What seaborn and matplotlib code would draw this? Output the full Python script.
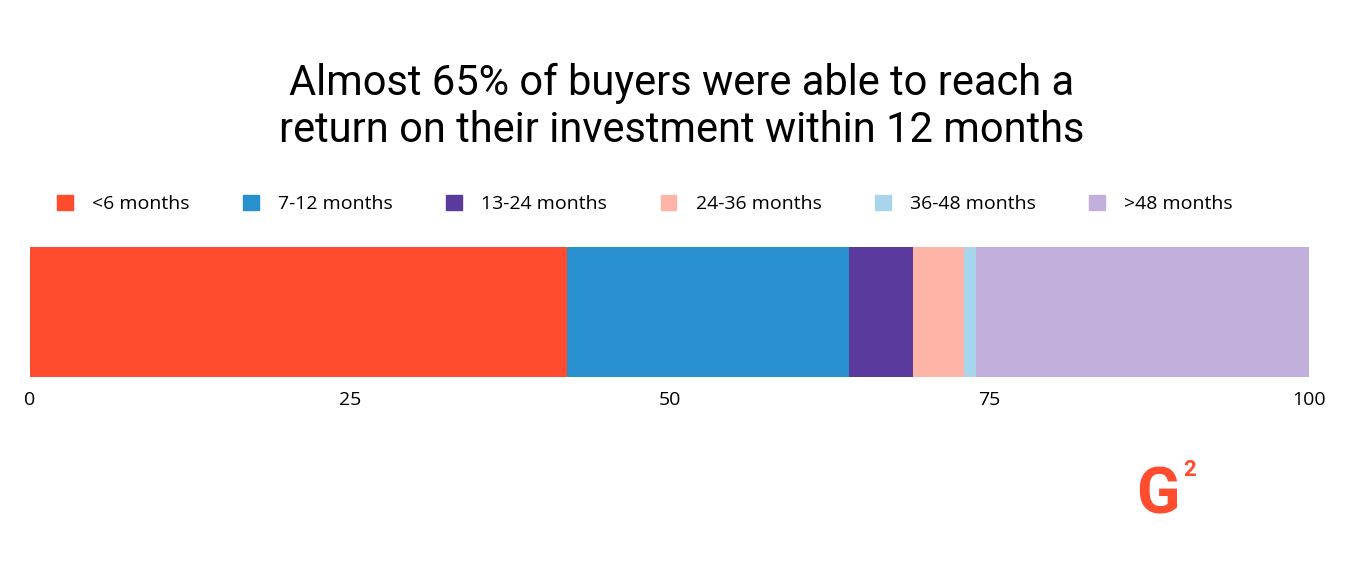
import matplotlib
matplotlib.use("Agg")
import matplotlib.pyplot as plt
import seaborn as sns
import pandas as pd
import numpy as np
from matplotlib.patches import Patch

categories = ["<6 months", "7-12 months", "13-24 months", "24-36 months", "36-48 months", ">48 months"]
values = [42.0, 22.0, 5.0, 4.0, 1.0, 26.0]
colors = ["#FF4B2E", "#2890CF", "#5B3A9E", "#FFB4A8", "#A8D4EC", "#C0B0DB"]
ticks = [0, 25, 50, 75, 100]

fig = plt.figure(figsize=(13.64, 5.64), dpi=100)
ax = fig.add_axes([30/1364, (564-377)/564, (1309-30)/1364, 130/564])
cum = np.cumsum(values)
for i in reversed(range(len(values))):
    df = pd.DataFrame({"y": ["all"], "x": [cum[i]]})
    sns.barplot(data=df, x="x", y="y", orient="h", color=colors[i], width=1.0,
                saturation=1, ax=ax, linewidth=0)
ax.set_xlim(0, 100)
ax.set_ylim(0.5, -0.5)
ax.set_xticks(ticks)
ax.set_xticklabels([str(t) for t in ticks], fontsize=14, family="Open Sans")
ax.tick_params(axis="x", length=0, pad=10)
ax.set_yticks([])
ax.set_xlabel(""); ax.set_ylabel("")
for s in ax.spines.values():
    s.set_visible(False)

fig.text(0.5, 0.81, "Almost 65% of buyers were able to reach a\nreturn on their investment within 12 months",
         ha="center", va="center", fontsize=30, family="Roboto", linespacing=1.2)
handles = [Patch(color=c, label=l) for c, l in zip(colors, categories)]
fig.legend(handles=handles, loc="center", bbox_to_anchor=(0.473, 0.638), ncol=6, frameon=False,
           handlelength=0.8, handleheight=0.8, columnspacing=2.75, handletextpad=1.0,
           prop={"family": "Open Sans", "size": 14})
fig.text(1158/1364, (564-496)/564, "G", color="#FF4B2E", fontsize=46, fontweight="bold",
         ha="center", va="center", family="Roboto")
fig.text(1190/1364, (564-470)/564, "2", color="#FF4B2E", fontsize=16, fontweight="bold",
         ha="center", va="center", family="Roboto")
fig.savefig("out.png", dpi=100, facecolor="white")
